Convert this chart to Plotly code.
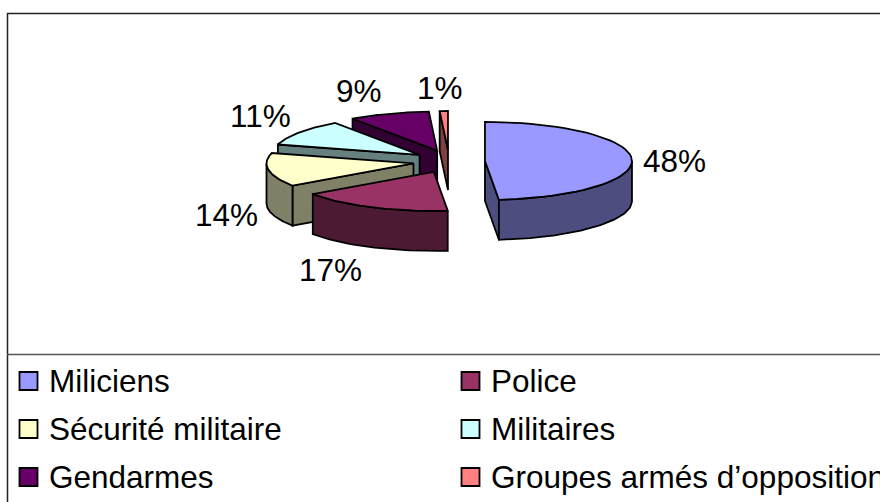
import math
import plotly.graph_objects as go

# --- data ---
categories = ["Miliciens", "Police", "Sécurité militaire", "Militaires", "Gendarmes", "Groupes armés d’opposition"]
shares = [48.49, 16.9, 13.9, 10.95, 8.86, 0.9]
top_colors = ["#9999FF", "#993366", "#FFFFCC", "#CCFFFF", "#660066", "#FF8080"]
side_colors = ["#4D4D80", "#4D1A33", "#808066", "#668080", "#330033", "#804040"]

# --- projection of the tilted pie (plot units = pixels) ---
CX, CY = 449.0, 161.5
RX, RY = 147.0, 39.0
DEPTH = 40.0
EXPLODE_X, EXPLODE_Y = 36.0, 11.5
FONT = "Liberation Sans, Arial, sans-serif"
FONT_SIZE = 31.5
LINE = 1.8
# label offsets from each wedge's outer point
label_nudge = [(43, 1.5), (-41, 23), (-42, 5.5), (-39, -16), (-30, -23), (-4, -23)]

fig = go.Figure()


def poly(xs, ys, color):
    fig.add_trace(go.Scatter(
        x=xs + xs[:1], y=ys + ys[:1], mode="lines", fill="toself", fillcolor=color,
        line=dict(color="black", width=LINE), hoverinfo="skip", showlegend=False))


def point(ax, ay, t):
    return ax + RX * math.sin(t), ay - RY * math.cos(t)


def arc(ax, ay, a, b, n=48):
    pts = [point(ax, ay, a + (b - a) * i / n) for i in range(n + 1)]
    return [p[0] for p in pts], [p[1] for p in pts]


total = sum(shares)
wedges = []
start = 0.0
for i, share in enumerate(shares):
    sweep = share / total * 2 * math.pi
    end = start + sweep
    mid = (start + end) / 2
    ax = CX + EXPLODE_X * math.sin(mid)
    ay = CY - EXPLODE_Y * math.cos(mid)
    wedges.append((i, start, end, mid, ax, ay))
    start = end

# painter's order: far wedges first
for i, a, b, mid, ax, ay in [wedges[5], wedges[4], wedges[3], wedges[2], wedges[1], wedges[0]]:
    # radial side faces turned toward the viewer
    for t, visible in ((a, math.sin(a) < -1e-6), (b, math.sin(b) > 1e-6)):
        if visible:
            px, py = point(ax, ay, t)
            poly([ax, px, px, ax], [ay, py, py + DEPTH, ay + DEPTH], side_colors[i])
    # outer rim, front half only
    lo, hi = max(a, math.pi / 2), min(b, 3 * math.pi / 2)
    if lo < hi:
        xs, ys = arc(ax, ay, lo, hi)
        poly(xs + xs[::-1], ys + [y + DEPTH for y in ys[::-1]], side_colors[i])
    # top face
    xs, ys = arc(ax, ay, a, b)
    poly([ax] + xs, [ay] + ys, top_colors[i])

annotations = []
for i, a, b, mid, ax, ay in wedges:
    px, py = point(ax, ay, mid)
    if math.cos(mid) < 0:
        py += DEPTH
    annotations.append(dict(
        x=px + label_nudge[i][0], y=py + label_nudge[i][1], text=f"{round(shares[i])}%",
        showarrow=False, xanchor="center", yanchor="middle",
        font=dict(family=FONT, size=FONT_SIZE, color="black")))

# legend block: two columns, three rows
col_x = [28.5, 470.5]
row_y = [381, 429, 477]
for i, name in enumerate(categories):
    mx, my = col_x[i % 2], row_y[i // 2]
    fig.add_trace(go.Scatter(
        x=[mx], y=[my], mode="markers", hoverinfo="skip", showlegend=False,
        marker=dict(symbol="square", size=18, color=top_colors[i], line=dict(color="black", width=1.8))))
    annotations.append(dict(
        x=mx + 18, y=my - 0.5, text=name, showarrow=False, xanchor="left", yanchor="middle",
        font=dict(family=FONT, size=FONT_SIZE, color="black")))

frame = [
    dict(type="line", x0=7, x1=880, y0=13.5, y1=13.5, line=dict(color="#222222", width=1.5)),
    dict(type="line", x0=7.5, x1=7.5, y0=13, y1=502, line=dict(color="#222222", width=1.5)),
    dict(type="line", x0=7, x1=880, y0=354.5, y1=354.5, line=dict(color="#555555", width=1.5)),
]

fig.update_layout(
    width=880, height=502, margin=dict(l=0, r=0, t=0, b=0),
    paper_bgcolor="white", plot_bgcolor="white",
    xaxis=dict(range=[0, 880], visible=False, fixedrange=True),
    yaxis=dict(range=[502, 0], visible=False, fixedrange=True),
    annotations=annotations, shapes=frame, showlegend=False,
)
fig.write_html("out.html", config={"displayModeBar": False},
               post_script="document.body.style.margin='0';document.body.style.overflow='hidden';")
